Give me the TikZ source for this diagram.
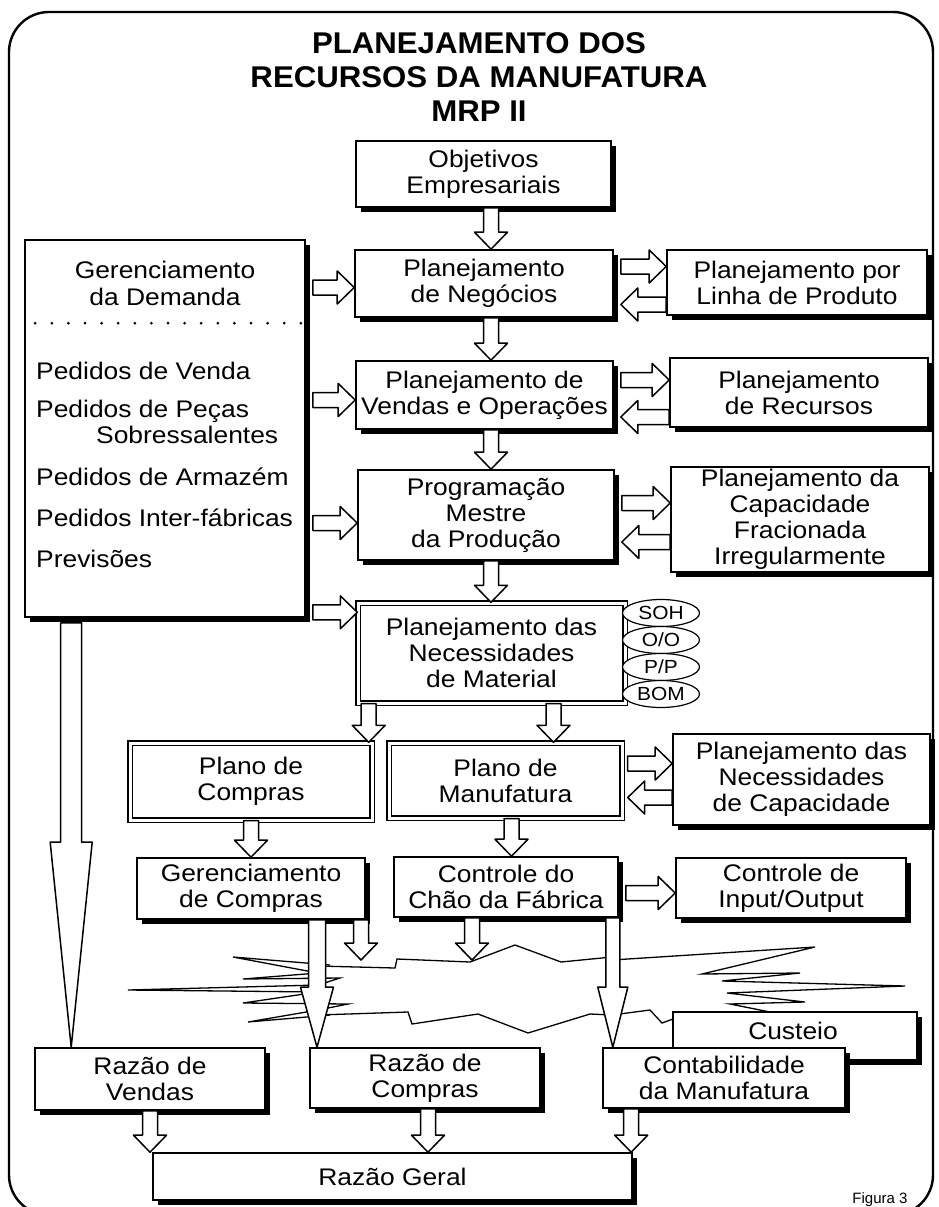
\documentclass[tikz,border=0pt]{standalone}
\usepackage{fontspec}
\setmainfont{Liberation Sans}
\newfontfamily\bx[FakeStretch=1.1]{Liberation Sans}
\newfontfamily\tx[FakeStretch=1.04]{Liberation Sans}
\usetikzlibrary{calc,shapes.geometric,shadows}
\tikzset{
  boxfont/.style={font=\bx\fontsize{24}{26}\selectfont},
  titlefont/.style={font=\tx\bfseries\fontsize{30}{34}\selectfont},
  box/.style={draw, line width=1.6pt, fill=white, align=center, inner sep=0pt, boxfont,
    drop shadow={shadow xshift=5pt, shadow yshift=-5pt, fill=black, opacity=1}},
  dbox/.style={draw, double, double distance=3pt, line width=1.4pt, fill=white, align=center, inner sep=0pt, boxfont},
  txt/.style={inner sep=0pt, boxfont},
  blockarrow/.style={draw, line width=1.5pt, fill=white, line join=round},
  zig/.style={line width=1.3pt, line join=miter},
  oval/.style={ellipse, draw, line width=1.2pt, fill=white, minimum width=77pt, minimum height=27pt, inner sep=0pt, font=\bx\fontsize{19}{19}\selectfont},
  frame/.style={line width=2.4pt, rounded corners=40pt}
}
\newcommand\rbox[7][box]{\node[#1, minimum width={#5-#3}, minimum height={#6-#4}] (#2) at ({(#3+#5)/2},{(#4+#6)/2}) {#7};}
\newcommand\blkg[5]{%
  \coordinate (bs) at #1; \coordinate (be) at #2;
  \coordinate (bh) at ($(be)!#5!(bs)$);
  \filldraw[blockarrow] ($(bs)!#3!90:(be)$) -- ($(bh)!#3!90:(be)$) -- ($(bh)!#4!90:(be)$) -- (be) -- ($(bh)!#4!-90:(be)$) -- ($(bh)!#3!-90:(be)$) -- ($(bs)!#3!-90:(be)$) -- cycle;}
\newcommand\blk[2]{\blkg{#1}{#2}{7.5pt}{16.5pt}{17pt}}
\begin{document}
\begin{tikzpicture}[x=1pt,y=-1pt]
\clip (0,0) rectangle (939,1207);
\draw[frame] (9,12) rectangle (933,1215);
% title
\node[txt, titlefont, anchor=base] (ti1) at (479,54) {PLANEJAMENTO DOS};
\node[txt, titlefont, anchor=base] (ti2) at (479,88) {RECURSOS DA MANUFATURA};
\node[txt, titlefont, anchor=base] (ti3) at (479,121) {MRP II};
% break lines
\draw[zig] (330,965) -- (233,957) -- (318,973) -- (243,979) -- (340,978) -- (318,985) -- (128,990) -- (318,992) -- (243,1003) -- (348,1004) -- (318,1010) -- (248,1022) -- (330,1015);
\draw[zig] (318,966) -- (395,968) -- (397,959) -- (470,962) -- (515,945) -- (561,962) -- (612,957);
\draw[zig] (612,960) -- (815,947) -- (702,974) -- (800,973) -- (722,981) -- (905,986) -- (727,993) -- (805,1002) -- (730,1004) -- (770,1012);
\draw[zig] (318,1015) -- (408,1012) -- (412,1024) -- (478,1014) -- (528,1033) -- (590,1014) -- (612,1015) -- (650,1010) -- (662,1023) -- (673,1019);
% boxes
\rbox{obj}{356}{141}{611}{207}{Objetivos\\Empresariais}
\rbox{neg}{355}{250}{613}{317}{Planejamento\\de Negócios}
\rbox{vend}{356}{361}{613}{429}{Planejamento de\\Vendas e Operações}
\rbox{prog}{358}{470}{614}{560}{Programação\\Mestre\\da Produção}
\rbox[dbox]{pnm}{358}{603}{625}{703}{Planejamento das\\Necessidades\\de Material}
\rbox{plin}{667}{250}{927}{315}{Planejamento por\\Linha de Produto}
\rbox{prec}{670}{358}{928}{427}{Planejamento\\de Recursos}
\rbox{pcap}{671}{467}{929}{572}{Planejamento da\\Capacidade\\Fracionada\\Irregularmente}
\rbox{dem}{25}{240}{305}{617}{}
\rbox[dbox]{pcomp}{130}{743}{372}{820}{Plano de\\Compras}
\rbox[dbox]{pman}{389}{743}{622}{818}{Plano de\\Manufatura}
\rbox{pnc}{673}{734}{930}{825}{Planejamento das\\Necessidades\\de Capacidade}
\rbox{gcomp}{137}{858}{365}{919}{Gerenciamento\\de Compras}
\rbox{cchao}{394}{857}{618}{917}{Controle do\\Chão da Fábrica}
\rbox{cio}{676}{858}{906}{918}{Controle de\\Input/Output}
\rbox{cust}{673}{1012}{917}{1060}{}
\node[txt] (custt) at (793,1031) {Custeio};
\rbox{rvend}{35}{1048}{265}{1110}{Razão de\\Vendas}
\rbox{rcomp}{310}{1048}{540}{1108}{Razão de\\Compras}
\rbox{cont}{603}{1048}{845}{1108}{Contabilidade\\da Manufatura}
\rbox{rgeral}{153}{1153}{632}{1200}{Razão Geral}
% demand box contents
\node[txt, anchor=base] (dh1) at (165,278) {Gerenciamento};
\node[txt, anchor=base] (dh2) at (165,305) {da Demanda};
\draw[line width=3pt, line cap=round, dash pattern=on 0pt off 16.6pt] ($(dem.north west)+(11,84)$) -- ($(dem.north east)+(-4,84)$);
\node[txt, anchor=base west] (d1) at (36,379) {Pedidos de Venda};
\node[txt, anchor=base west] (d2) at (36,417) {Pedidos de Peças};
\node[txt, anchor=base west] (d3) at (96,443) {Sobressalentes};
\node[txt, anchor=base west] (d4) at (36,485) {Pedidos de Armazém};
\node[txt, anchor=base west] (d5) at (36,526) {Pedidos Inter-fábricas};
\node[txt, anchor=base west] (d6) at (36,567) {Previsões};
% ovals
\node[oval] (soh) at (661,613) {SOH};
\node[oval] (oo) at (661,640) {O/O};
\node[oval] (pp) at (661,667) {P/P};
\node[oval] (bom) at (661,694) {BOM};
% main column arrows
\coordinate (col) at (491,0);
\blk{(col |- obj.south)}{(col |- neg.north)}
\blk{(col |- neg.south)}{(col |- vend.north)}
\blk{(col |- vend.south)}{(col |- prog.north)}
\blk{(col |- prog.south)}{(col |- pnm.north)}
% demand arrows
\coordinate (demR) at ([xshift=7pt]dem.east);
\coordinate (q1) at ($(neg.west)+(0,4)$);
\coordinate (q2) at ($(vend.west)+(0,5)$);
\coordinate (q3) at ($(prog.west)+(0,8)$);
\coordinate (q4) at ($(pnm.north west)+(0,10)$);
\blk{(demR |- q1)}{(q1)}
\blk{(demR |- q2)}{(q2)}
\blk{(demR |- q3)}{(q3)}
\blk{(demR |- q4)}{(q4)}
% right pairs
\coordinate (r1) at ($(neg.east)+(7,-17)$); \blk{(r1)}{(r1 -| plin.west)}
\coordinate (l1) at ($(neg.east)+(7,21)$); \blk{(l1 -| plin.west)}{(l1)}
\coordinate (r2) at ($(vend.east)+(7,-15)$); \blk{(r2)}{(r2 -| prec.west)}
\coordinate (l2) at ($(vend.east)+(7,22)$); \blk{(l2 -| prec.west)}{(l2)}
\coordinate (r3) at ($(prog.east)+(7,-12)$); \blk{(r3)}{(r3 -| pcap.west)}
\coordinate (l3) at ($(prog.east)+(7,27)$); \blk{(l3 -| pcap.west)}{(l3)}
\coordinate (r4) at ($(pman.east)+(5,-17)$); \blk{(r4)}{(r4 -| pnc.west)}
\coordinate (l4) at ($(pman.east)+(5,17)$); \blk{(l4 -| pnc.west)}{(l4)}
% lower arrows
\coordinate (c1) at ([xshift=-4pt]pcomp.north east); \blk{(c1 |- pnm.south)}{(c1)}
\coordinate (c2) at ([xshift=48pt]pman.north); \blk{(c2 |- pnm.south)}{(c2)}
\blk{(pcomp.south)}{(pcomp.south |- gcomp.north)}
\coordinate (c3) at ([xshift=6pt]pman.south); \blk{(c3)}{(c3 |- cchao.north)}
\coordinate (c4) at ($(cchao.east)+(7,6)$); \blk{(c4)}{(c4 -| cio.west)}
\coordinate (z1) at (361,960); \blk{(gcomp.south -| z1)}{(z1)}
\coordinate (z2) at (472,960); \blk{(cchao.south -| z2)}{(z2)}
\coordinate (c5) at ($(gcomp.south)+(66,0)$); \blkg{(c5)}{(c5 |- rcomp.north)}{8.5pt}{16.5pt}{60pt}
\coordinate (c6) at ($(cchao.south east)+(-6,0)$); \blkg{(c6)}{(c6 |- cont.north)}{7pt}{15pt}{60pt}
\coordinate (c7) at ($(dem.south west)+(47,5)$); \blkg{(c7)}{(c7 |- rvend.north)}{10.5pt}{21pt}{205pt}
\blk{(rvend.south)}{(rvend.south |- rgeral.north)}
\coordinate (c8) at ($(rcomp.south)+(3,0)$); \blk{(c8)}{(c8 |- rgeral.north)}
\coordinate (c9) at ($(cont.south west)+(29,0)$); \blk{(c9)}{(c9 |- rgeral.north)}
\node[inner sep=0pt, font=\fontsize{15}{15}\selectfont, anchor=base] (fig) at (880,1203) {Figura 3};
\end{tikzpicture}
\end{document}
